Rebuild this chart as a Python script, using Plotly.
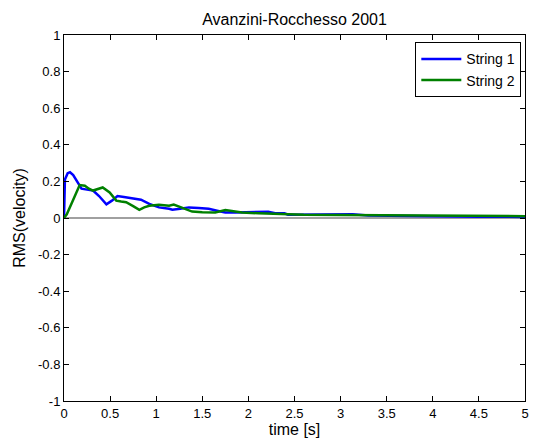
import plotly.graph_objects as go

# Data
t_s1 = [0.0, 0.01, 0.04, 0.065, 0.1, 0.15, 0.19, 0.25, 0.315, 0.38, 0.42, 0.46, 0.52, 0.58, 0.65, 0.71, 0.78, 0.835, 0.925, 1.03, 1.14, 1.175, 1.26, 1.355, 1.46, 1.57, 1.66, 1.75, 1.86, 1.96, 2.1, 2.215, 2.29, 2.39, 2.43, 2.57, 2.7, 2.86, 3.0, 3.13, 3.3, 3.6, 4.0, 4.5, 5.0]
v_s1 = [0.0, 0.21, 0.245, 0.25, 0.235, 0.19, 0.16, 0.155, 0.15, 0.12, 0.095, 0.075, 0.095, 0.12, 0.115, 0.11, 0.108, 0.1, 0.077, 0.058, 0.05, 0.045, 0.05, 0.058, 0.054, 0.05, 0.04, 0.03, 0.03, 0.03, 0.032, 0.034, 0.026, 0.026, 0.018, 0.018, 0.02, 0.022, 0.022, 0.02, 0.014, 0.011, 0.009, 0.007, 0.006]

t_s2 = [0.0, 0.03, 0.1, 0.17, 0.226, 0.27, 0.315, 0.37, 0.42, 0.495, 0.567, 0.62, 0.674, 0.75, 0.817, 0.87, 0.925, 1.03, 1.14, 1.19, 1.29, 1.39, 1.5, 1.64, 1.75, 1.84, 1.93, 2.11, 2.3, 2.6, 3.0, 3.5, 4.0, 4.5, 5.0]
v_s2 = [0.0, 0.02, 0.1, 0.18, 0.176, 0.16, 0.15, 0.16, 0.167, 0.14, 0.095, 0.09, 0.086, 0.065, 0.045, 0.058, 0.067, 0.073, 0.067, 0.073, 0.055, 0.035, 0.032, 0.03, 0.044, 0.036, 0.03, 0.026, 0.022, 0.018, 0.016, 0.015, 0.013, 0.012, 0.01]

x_ticks = [0, 0.5, 1, 1.5, 2, 2.5, 3, 3.5, 4, 4.5, 5]
x_ticktext = ["0", "0.5", "1", "1.5", "2", "2.5", "3", "3.5", "4", "4.5", "5"]
y_ticks = [-1, -0.8, -0.6, -0.4, -0.2, 0, 0.2, 0.4, 0.6, 0.8, 1]
y_ticktext = ["-1", "-0.8", "-0.6", "-0.4", "-0.2", "0", "0.2", "0.4", "0.6", "0.8", "1"]

font = "Liberation Sans, Arial, sans-serif"

fig = go.Figure()
fig.add_trace(go.Scatter(x=t_s1, y=v_s1, mode="lines", name="String 1",
                         line=dict(color="#0000ff", width=2.5)))
fig.add_trace(go.Scatter(x=t_s2, y=v_s2, mode="lines", name="String 2",
                         line=dict(color="#008000", width=2.5)))

axis_common = dict(showline=True, linecolor="black", linewidth=1, mirror="ticks",
                   ticks="inside", ticklen=5, tickcolor="black", showgrid=False,
                   tickfont=dict(family=font, size=13, color="black"))

fig.update_layout(
    autosize=False,
    width=529, height=436,
    margin=dict(l=56, r=8, t=27, b=43),
    paper_bgcolor="white", plot_bgcolor="white",
    font=dict(family=font, size=13, color="black"),
    title=dict(text="Avanzini-Rocchesso 2001", x=0.5, xref="paper", xanchor="center",
               y=0.975, yref="container", yanchor="middle",
               font=dict(family=font, size=16, color="black")),
    xaxis=dict(range=[0, 5], tickvals=x_ticks, ticktext=x_ticktext, zeroline=False,
               title=dict(text="time [s]", standoff=3, font=dict(family=font, size=16)),
               **axis_common),
    yaxis=dict(range=[-1, 1], tickvals=y_ticks, ticktext=y_ticktext,
               zeroline=True, zerolinecolor="#a0a0a0", zerolinewidth=1.5,
               title=dict(text="RMS(velocity)", standoff=8, font=dict(family=font, size=16)),
               **axis_common),
    legend=dict(x=0.992, y=0.98, xanchor="right", yanchor="top",
                bordercolor="black", borderwidth=1, bgcolor="white",
                itemwidth=40, font=dict(family=font, size=14), tracegroupgap=0),
    showlegend=True,
)

fig.write_html("out.html")
